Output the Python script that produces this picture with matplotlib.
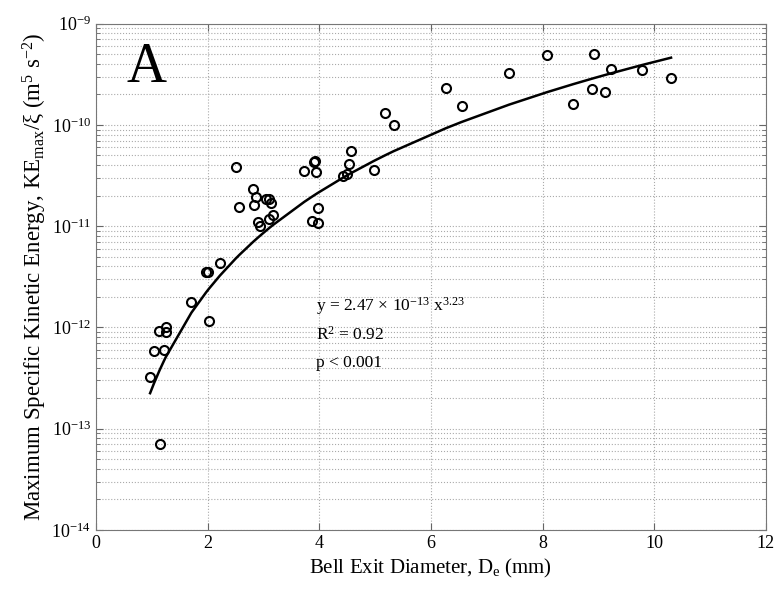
import numpy as np
import matplotlib
matplotlib.use('Agg')
from matplotlib import pyplot as plt
from matplotlib.ticker import LogLocator, NullFormatter

plt.rcParams['font.family'] = ['Liberation Serif', 'DejaVu Serif']
plt.rcParams['mathtext.fontset'] = 'custom'
plt.rcParams['mathtext.rm'] = 'Liberation Serif'
plt.rcParams['mathtext.it'] = 'Liberation Serif:italic'
plt.rcParams['mathtext.bf'] = 'Liberation Serif:bold'
plt.rcParams['axes.unicode_minus'] = False

# bell exit diameter (mm) and KEmax/xi
diam = [0.97, 1.04, 1.13, 1.15, 1.22, 1.25, 1.25, 1.71, 1.97, 2.00, 2.03, 2.22,
        2.50, 2.57, 2.81, 2.87, 2.83, 2.90, 2.94, 3.04, 3.10, 3.14, 3.10, 3.17,
        3.73, 3.91, 3.93, 3.94, 3.87, 3.98, 3.98, 4.43, 4.49, 4.54, 4.56, 4.98,
        5.18, 5.33, 6.27, 6.55, 7.40, 8.08, 8.55, 8.88, 8.92, 9.12, 9.22, 9.78,
        10.30]
ke = [3.2e-13, 5.8e-13, 9.2e-13, 7.0e-14, 6.0e-13, 1.0e-12, 8.9e-13, 1.8e-12,
      3.5e-12, 3.5e-12, 1.16e-12, 4.35e-12,
      3.84e-11, 1.53e-11, 2.34e-11, 1.92e-11, 1.60e-11, 1.10e-11, 1.0e-11,
      1.85e-11, 1.85e-11, 1.68e-11, 1.18e-11, 1.28e-11,
      3.5e-11, 4.26e-11, 4.4e-11, 3.45e-11, 1.13e-11, 1.51e-11, 1.08e-11,
      3.13e-11, 3.24e-11, 4.14e-11, 5.56e-11, 3.55e-11,
      1.32e-10, 1.0e-10, 2.31e-10, 1.54e-10, 3.26e-10, 4.9e-10, 1.6e-10,
      2.26e-10, 5.0e-10, 2.13e-10, 3.54e-10, 3.46e-10, 2.88e-10]

# power law fit y = a x^b
a = 2.47e-13
b = 3.23
xfit = np.sort(np.unique(diam))
yfit = a * xfit ** b

fig = plt.figure(figsize=(7.8, 5.92), dpi=100)
ax = fig.add_axes([0.123, 0.105, 0.859, 0.855])

ax.plot(xfit, yfit, '-', color='black', lw=1.8)
ax.plot(diam, ke, 'o', mfc='none', mec='black', mew=1.5, ms=6.5)

ax.set_yscale('log')
ax.set_xlim(0, 12)
ax.set_ylim(1e-14, 1e-9)
ax.set_xticks([0, 2, 4, 6, 8, 10, 12])
ax.yaxis.set_major_locator(LogLocator(base=10, numticks=10))
ax.yaxis.set_minor_locator(LogLocator(base=10, subs=np.arange(2, 10), numticks=20))
ax.yaxis.set_minor_formatter(NullFormatter())

ax.grid(True, which='major', axis='both', linestyle=':', color='#aaaaaa', lw=0.8)
ax.grid(True, which='minor', axis='y', linestyle=':', color='#aaaaaa', lw=0.8)

ax.tick_params(which='both', direction='in', top=True, right=True, color='#666666')
ax.tick_params(which='major', length=5, labelsize=13)
ax.tick_params(which='minor', length=3)
for sp in ax.spines.values():
    sp.set_color('#777777')

ax.set_xlabel(r'Bell Exit Diameter, D$_\mathrm{e}$ (mm)', fontsize=15)
ax.set_ylabel(r'Maximum Specific Kinetic Energy, KE$_\mathrm{max}$/ξ (m$^\mathrm{5}$ s$^\mathrm{-2}$)',
              fontsize=16.5, labelpad=2)

ax.text(0.045, 0.885, 'A', transform=ax.transAxes, fontsize=40)
ax.text(3.95, 1.45e-12, r'y = 2.47 × 10$^\mathrm{-13}$ x$^\mathrm{3.23}$', fontsize=12.5)
ax.text(3.95, 7.5e-13, r'R$^\mathrm{2}$ = 0.92', fontsize=12.5)
ax.text(3.95, 4.1e-13, 'p < 0.001', fontsize=12.5)

fig.savefig('out.png', dpi=100)
